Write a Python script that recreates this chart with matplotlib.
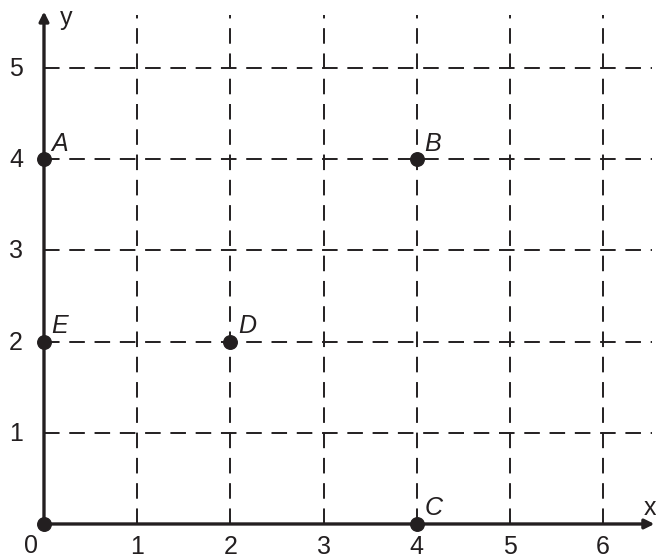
import matplotlib.pyplot as plt

plt.rcParams['font.family'] = ['Liberation Sans', 'DejaVu Sans']

# points on the grid
names = ['A', 'B', 'C', 'D', 'E']
xs = [0, 4, 4, 2, 0]
ys = [4, 4, 0, 2, 2]
x_ticks = [1, 2, 3, 4, 5, 6]
y_ticks = [1, 2, 3, 4, 5]

fig = plt.figure(figsize=(6.56, 5.59), dpi=100)
ax = fig.add_axes([0, 0, 1, 1])
ax.set_xlim(-0.472, 6.567)
ax.set_ylim(-0.384, 5.746)
ax.axis('off')

ink = '#231f20'
x_top, y_right = 5.58, 6.52

# dashed grid
for x in x_ticks:
    ax.plot([x, x], [0, x_top], color=ink, lw=1.4, dashes=(8, 5))
for y in y_ticks:
    ax.plot([0, y_right], [y, y], color=ink, lw=1.4, dashes=(8, 5))

# axes with arrows
ax.annotate('', xy=(6.55, 0), xytext=(0, 0),
            arrowprops=dict(arrowstyle='-|>', color=ink, lw=2.4,
                            mutation_scale=14, shrinkA=0, shrinkB=0))
ax.annotate('', xy=(0, 5.62), xytext=(0, 0),
            arrowprops=dict(arrowstyle='-|>', color=ink, lw=2.4,
                            mutation_scale=14, shrinkA=0, shrinkB=0))

ax.text(0.17, 5.55, 'y', fontsize=18, color=ink, ha='left', va='center')
ax.text(6.44, 0.17, 'x', fontsize=18, color=ink, ha='left', va='center')

# tick labels
ax.text(-0.14, -0.24, '0', fontsize=18, color=ink, ha='center', va='center')
for x in x_ticks:
    ax.text(x, -0.25, str(x), fontsize=18, color=ink, ha='center', va='center')
for y in y_ticks:
    ax.text(-0.3, y - 0.01, str(y), fontsize=18, color=ink, ha='center', va='center')

# points
ax.scatter([0] + xs, [0] + ys, s=95, color=ink, zorder=5)
for n, x, y in zip(names, xs, ys):
    ax.text(x + 0.08, y + 0.17, n, fontsize=18, style='italic', color=ink,
            ha='left', va='center')

fig.savefig('out.png', dpi=100)
